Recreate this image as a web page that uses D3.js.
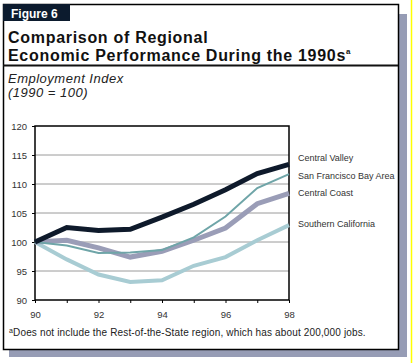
<!DOCTYPE html>
<html>
<head>
<meta charset="utf-8">
<script src="https://cdn.jsdelivr.net/npm/d3@7"></script>
<style>
  body { margin: 0; background: #fff; }
  svg { display: block; font-family: Arial, "Liberation Sans", sans-serif; }
</style>
</head>
<body>
<script>
var years = [90, 91, 92, 93, 94, 95, 96, 97, 98];
var yTicks = [90, 95, 100, 105, 110, 115, 120];
var xTicks = [90, 92, 94, 96, 98];
var seriesNames = ["Central Valley", "San Francisco Bay Area", "Central Coast", "Southern California"];
var centralValley = [100, 102.5, 102.0, 102.2, 104.3, 106.5, 109.0, 111.8, 113.4];
var bayArea      = [100, 99.4, 98.1, 98.2, 98.6, 100.8, 104.4, 109.3, 111.7];
var centralCoast = [100, 100.3, 99.0, 97.4, 98.4, 100.3, 102.4, 106.6, 108.4];
var southernCal  = [100, 97.0, 94.4, 93.1, 93.4, 95.9, 97.4, 100.3, 102.9];

var w = 413, h = 363;
var svg = d3.select("body").append("svg").attr("width", w).attr("height", h);

// drop shadow + frame
svg.append("rect").attr("x", 9).attr("y", 14).attr("width", 398).attr("height", 343).attr("fill", "#969cb5");
svg.append("rect").attr("x", 3.5).attr("y", 4.5).attr("width", 395).attr("height", 345)
    .attr("fill", "#fff").attr("stroke", "#000").attr("stroke-width", 1.5);
svg.append("line").attr("x1", 411.5).attr("x2", 411.5).attr("y1", 0).attr("y2", h)
    .attr("stroke", "#ffff00").attr("stroke-width", 1.5);

// header
svg.append("rect").attr("x", 3).attr("y", 4).attr("width", 67).attr("height", 17).attr("fill", "#0c1b2e");
svg.append("text").attr("x", 11).attr("y", 18).attr("fill", "#fff")
    .style("font", "bold 12px Arial").text("Figure 6");
svg.append("text").attr("x", 8).attr("y", 43).attr("fill", "#111")
    .style("font", "bold 16px Arial").style("letter-spacing", "0.7px").text("Comparison of Regional");
var t2 = svg.append("text").attr("x", 8).attr("y", 61).attr("fill", "#111")
    .style("font", "bold 16px Arial").style("letter-spacing", "0.7px");
t2.append("tspan").text("Economic Performance During the 1990s");
t2.append("tspan").attr("dy", -7).style("font-size", "8px").text("a");
svg.append("line").attr("x1", 3).attr("x2", 398).attr("y1", 65.5).attr("y2", 65.5)
    .attr("stroke", "#111").attr("stroke-width", 2);

svg.append("text").attr("x", 8).attr("y", 83).attr("fill", "#222")
    .style("font", "italic 13px Arial").style("letter-spacing", "0.5px").text("Employment Index");
svg.append("text").attr("x", 8).attr("y", 97).attr("fill", "#222")
    .style("font", "italic 13px Arial").style("letter-spacing", "0.5px").text("(1990 = 100)");

// plot
var left = 35, right = 289, plotTop = 126, bottom = 300;
var x = d3.scaleLinear().domain([90, 98]).range([left, right]);
var y = d3.scaleLinear().domain([90, 120]).range([bottom, plotTop]);

var g = svg.append("g");
g.append("g").selectAll("line").data(yTicks.slice(1, -1)).enter().append("line")
    .attr("x1", left).attr("x2", right)
    .attr("y1", d => y(d)).attr("y2", d => y(d))
    .attr("stroke", "#9a9a9a").attr("stroke-width", 1);

var yAxis = g.append("g").attr("transform", "translate(" + left + ",0)")
    .call(d3.axisLeft(y).tickValues(yTicks).tickSize(3).tickPadding(5));
yAxis.select(".domain").remove();
yAxis.selectAll("line").attr("stroke", "#000");
yAxis.selectAll("text").style("font", "9.5px Arial").attr("fill", "#333");

var xAxis = g.append("g").attr("transform", "translate(0," + bottom + ")")
    .call(d3.axisBottom(x).tickValues(years).tickSize(3).tickPadding(8)
        .tickFormat(d => xTicks.indexOf(d) >= 0 ? d : ""));
xAxis.select(".domain").remove();
xAxis.selectAll("line").attr("stroke", "#000");
xAxis.selectAll("text").style("font", "9.5px Arial").attr("fill", "#333");

g.append("rect").attr("x", left).attr("y", plotTop).attr("width", right - left).attr("height", bottom - plotTop)
    .attr("fill", "none").attr("stroke", "#000").attr("stroke-width", 1.5);

var series = [
    { name: seriesNames[3], values: southernCal, color: "#a8ccd3", width: 4 },
    { name: seriesNames[2], values: centralCoast, color: "#9a9db7", width: 5 },
    { name: seriesNames[1], values: bayArea, color: "#6fa5a8", width: 2 },
    { name: seriesNames[0], values: centralValley, color: "#0e1a2b", width: 5 }
];
var line = d3.line().x((d, i) => x(years[i])).y(d => y(d));
g.selectAll(".series").data(series).enter().append("path")
    .attr("fill", "none")
    .attr("stroke", d => d.color)
    .attr("stroke-width", d => d.width)
    .attr("stroke-linejoin", "miter")
    .attr("d", d => line(d.values));

// labels at right
var labelY = { "Central Valley": 158, "San Francisco Bay Area": 176, "Central Coast": 193, "Southern California": 224 };
g.selectAll(".lab").data(series).enter().append("text")
    .attr("x", 298).attr("y", d => labelY[d.name]).attr("dy", "0.35em")
    .attr("fill", "#333").style("font", "9px Arial").text(d => d.name);

// footnote
var fn = svg.append("text").attr("x", 9).attr("y", 336).attr("fill", "#222")
    .style("font", "10px Arial").style("letter-spacing", "0.15px");
fn.append("tspan").attr("dy", -3).style("font-size", "7px").text("a");
fn.append("tspan").attr("dy", 3).text("Does not include the Rest-of-the-State region, which has about 200,000 jobs.");
</script>
</body>
</html>
